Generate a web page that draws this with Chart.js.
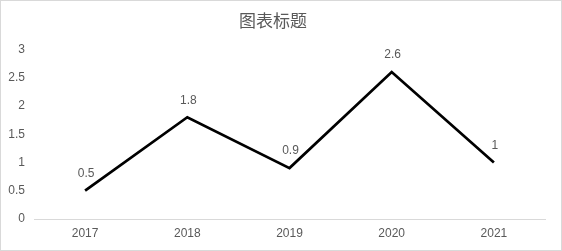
<!DOCTYPE html>
<html><head><meta charset="utf-8">
<script src="https://cdn.jsdelivr.net/npm/chart.js@4/dist/chart.umd.min.js"></script>
<style>
html,body{margin:0;padding:0;background:#fff;}
#wrap{position:absolute;left:0;top:0;width:560px;height:249px;border:1px solid #d9d9d9;}
canvas{display:block;}
</style></head>
<body><div id="wrap"><canvas id="c" width="560" height="249"></canvas></div>
<script>
const categories = ["2017","2018","2019","2020","2021"];
const values = [0.5, 1.8, 0.9, 2.6, 1];
const yTicks = [0, 0.5, 1, 1.5, 2, 2.5, 3];
const titleText = "图表标题";

const labelPlugin = {
  id: 'valueLabels',
  afterDatasetsDraw(chart) {
    const ctx = chart.ctx;
    const meta = chart.getDatasetMeta(0);
    ctx.save();
    ctx.font = '12px "Liberation Sans", Arial, sans-serif';
    ctx.fillStyle = '#595959';
    ctx.textAlign = 'center';
    ctx.textBaseline = 'middle';
    meta.data.forEach((pt, i) => {
      ctx.fillText(String(values[i]), pt.x + 1, pt.y - 17);
    });
    ctx.restore();
  }
};

new Chart(document.getElementById('c'), {
  type: 'line',
  data: {
    labels: categories,
    datasets: [{
      data: values,
      borderColor: '#000000',
      borderWidth: 2.75,
      pointRadius: 0,
      tension: 0,
      fill: false
    }]
  },
  options: {
    responsive: false,
    animation: false,
    devicePixelRatio: 1,
    layout: { padding: { left: 0, right: 16, top: 0, bottom: 0 } },
    plugins: {
      legend: { display: false },
      tooltip: { enabled: false },
      title: {
        display: true,
        text: titleText,
        color: '#595959',
        font: { family: '"Noto Sans CJK SC", sans-serif', size: 17, weight: 'normal' },
        padding: { top: 9, bottom: 19 }
      }
    },
    scales: {
      x: {
        offset: true,
        grid: { display: false, drawTicks: false },
        border: { display: true, color: '#d9d9d9', width: 1 },
        ticks: { color: '#595959', font: { family: '"Liberation Sans", Arial, sans-serif', size: 12 }, padding: 7, maxRotation: 0 },
        afterFit(s) { s.height = 31; }
      },
      y: {
        min: 0, max: 3,
        grid: { display: false, drawTicks: false },
        border: { display: false },
        afterBuildTicks(s) { s.ticks = yTicks.map(v => ({ value: v })); },
        ticks: { color: '#595959', font: { family: '"Liberation Sans", Arial, sans-serif', size: 12 }, padding: 9, callback: v => String(v) },
        afterFit(s) { s.width = 33; }
      }
    }
  },
  plugins: [labelPlugin]
});
</script>
</body></html>
